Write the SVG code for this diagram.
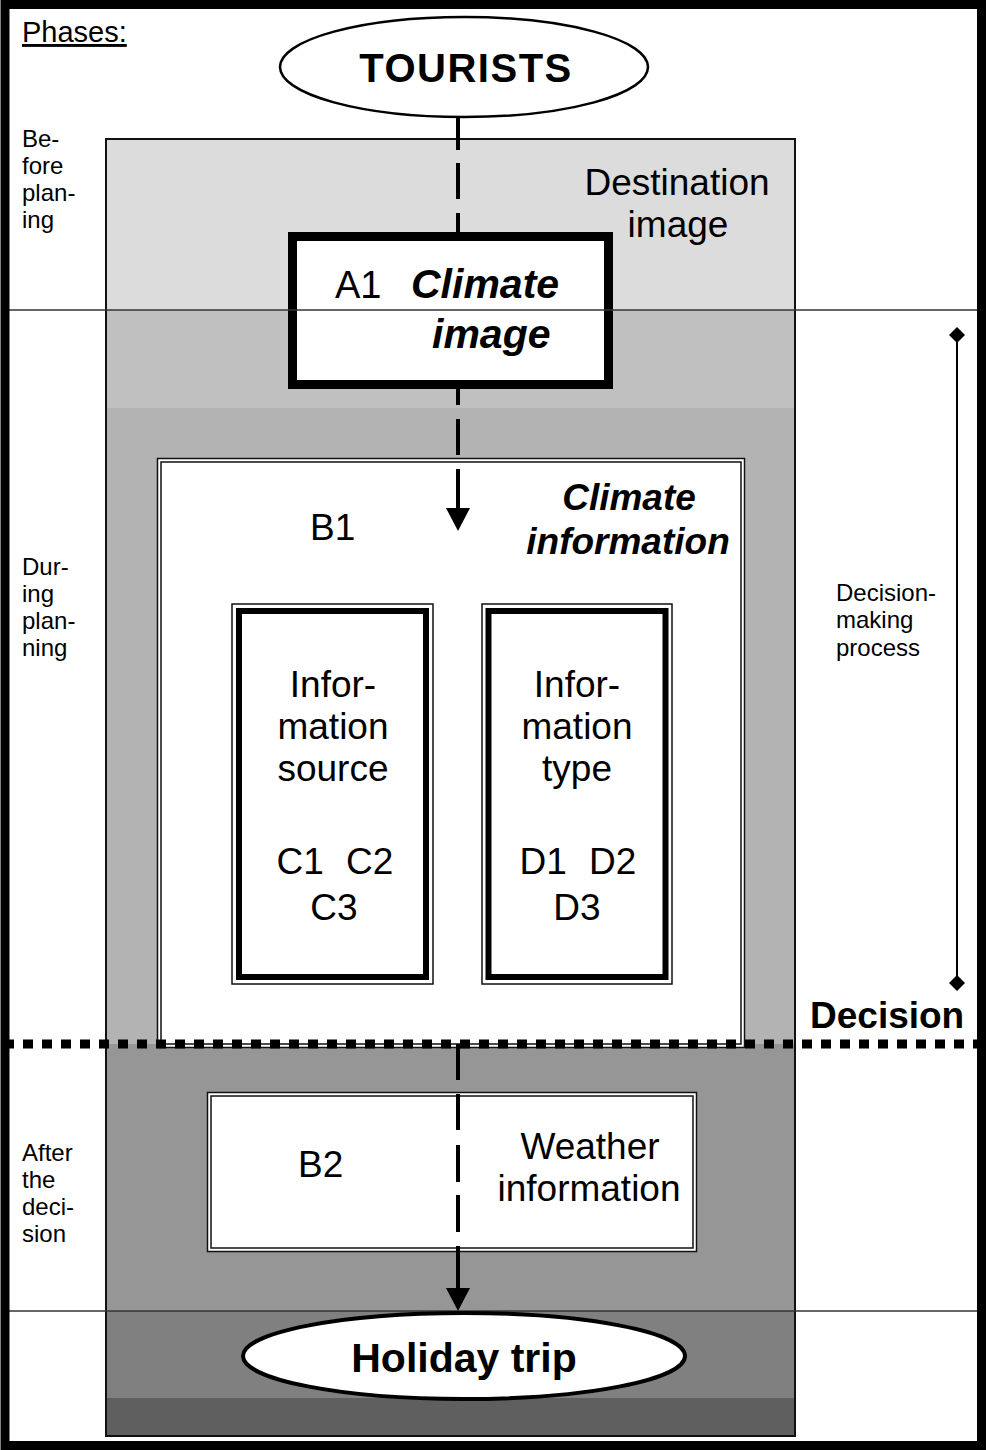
<svg xmlns="http://www.w3.org/2000/svg" width="986" height="1450" viewBox="0 0 986 1450">
  <style>
    text { font-family: "Liberation Sans", Arial, sans-serif; fill: #000; }
    .phase { font-size: 24px; }
    .big { font-size: 37px; }
    .mid { text-anchor: middle; }
    .bi { font-weight: bold; font-style: italic; }
    .b { font-weight: bold; }
    .thin { fill: none; stroke: #111; stroke-width: 1.5; }
    .card { fill: #fff; stroke: #111; stroke-width: 1.5; }
    .sep { stroke: #333; stroke-width: 1.5; }
    .dash { stroke: #000; stroke-width: 4; fill: none; }
  </style>

  <!-- page background -->
  <rect x="0" y="0" width="986" height="1450" fill="#fff"/>

  <!-- shaded process panel, banded by phase -->
  <g id="panel">
    <rect x="106" y="139" width="689" height="171" fill="#dcdcdc"/>
    <rect x="106" y="310" width="689" height="98" fill="#c0c0c0"/>
    <rect x="106" y="408" width="689" height="636" fill="#b3b3b3"/>
    <rect x="106" y="1044" width="689" height="267" fill="#969696"/>
    <rect x="106" y="1311" width="689" height="87" fill="#808080"/>
    <rect x="106" y="1398" width="689" height="38" fill="#5f5f5f"/>
    <rect x="106" y="139" width="689" height="1297" fill="none" stroke="#111" stroke-width="2"/>
    <text class="big mid" x="677" y="195">Destination</text>
    <text class="big mid" x="678" y="237">image</text>
  </g>

  <!-- phase labels -->
  <g id="phases">
    <text x="22" y="42" font-size="29" text-decoration="underline">Phases:</text>
    <text class="phase" x="22" y="147">Be-</text>
    <text class="phase" x="22" y="174">fore</text>
    <text class="phase" x="22" y="201">plan-</text>
    <text class="phase" x="22" y="228">ing</text>
    <text class="phase" x="22" y="575">Dur-</text>
    <text class="phase" x="22" y="602">ing</text>
    <text class="phase" x="22" y="629">plan-</text>
    <text class="phase" x="22" y="656">ning</text>
    <text class="phase" x="22" y="1161">After</text>
    <text class="phase" x="22" y="1188">the</text>
    <text class="phase" x="22" y="1215">deci-</text>
    <text class="phase" x="22" y="1242">sion</text>
  </g>

  <!-- B1: climate information -->
  <g id="b1">
    <rect class="card" x="157.5" y="458.5" width="587" height="589"/>
    <rect class="thin" x="161" y="462" width="580" height="582"/>
    <text class="big" x="310" y="540" font-size="38">B1</text>
    <text class="big mid bi" x="629" y="510">Climate</text>
    <text class="big mid bi" x="628" y="554">information</text>
  </g>

  <!-- C: information source -->
  <g id="c-source">
    <rect class="card" x="232" y="604" width="201" height="380"/>
    <rect x="239" y="611" width="187" height="366" fill="none" stroke="#000" stroke-width="6"/>
    <text class="big mid" x="333" y="697">Infor-</text>
    <text class="big mid" x="333" y="739">mation</text>
    <text class="big mid" x="333" y="781">source</text>
    <text class="big mid" x="335" y="874" word-spacing="12">C1 C2</text>
    <text class="big mid" x="334" y="920">C3</text>
  </g>

  <!-- D: information type -->
  <g id="d-type">
    <rect class="card" x="482" y="604" width="190" height="380"/>
    <rect x="488.5" y="611" width="177" height="366" fill="none" stroke="#000" stroke-width="6"/>
    <text class="big mid" x="577" y="697">Infor-</text>
    <text class="big mid" x="577" y="739">mation</text>
    <text class="big mid" x="577" y="781">type</text>
    <text class="big mid" x="578" y="874" word-spacing="12">D1 D2</text>
    <text class="big mid" x="577" y="920">D3</text>
  </g>

  <!-- B2: weather information -->
  <g id="b2">
    <rect class="card" x="207.5" y="1092.5" width="489" height="159"/>
    <rect class="thin" x="211" y="1096" width="482" height="152"/>
    <text class="big" x="298" y="1177" font-size="38">B2</text>
    <text class="big mid" x="590" y="1159">Weather</text>
    <text class="big mid" x="589" y="1201">information</text>
  </g>

  <!-- A1: climate image -->
  <g id="a1">
    <rect x="292.5" y="236.5" width="316" height="148" fill="#fff" stroke="#000" stroke-width="9"/>
    <text x="335" y="298" font-size="38">A1</text>
    <text class="bi" x="411" y="298" font-size="41">Climate</text>
    <text class="bi" x="432" y="348" font-size="41">image</text>
  </g>

  <!-- phase separators -->
  <g id="separators">
    <line class="sep" x1="9" y1="310" x2="978" y2="310"/>
    <line class="sep" x1="9" y1="1311" x2="978" y2="1311"/>
    <line x1="4" y1="1044" x2="978" y2="1044" stroke="#000" stroke-width="9" stroke-dasharray="10 9"/>
  </g>

  <!-- tourists -->
  <g id="tourists">
    <ellipse cx="464" cy="67" rx="184" ry="50" fill="#fff" stroke="#000" stroke-width="2.5"/>
    <text class="b mid" x="466" y="82" font-size="40" letter-spacing="1.5">TOURISTS</text>
  </g>

  <!-- decision-making span and decision point -->
  <g id="decision">
    <line x1="957" y1="335" x2="957" y2="983" stroke="#000" stroke-width="2"/>
    <path d="M957,327 L965,335 L957,343 L949,335 Z" fill="#000"/>
    <path d="M957,975 L965,983 L957,991 L949,983 Z" fill="#000"/>
    <text class="phase" x="836" y="601">Decision-</text>
    <text class="phase" x="836" y="628">making</text>
    <text class="phase" x="836" y="656">process</text>
    <text class="b" x="810" y="1028" font-size="37">Decision</text>
  </g>

  <!-- dashed flow connectors -->
  <g id="connectors">
    <path class="dash" d="M458,117 V150 M458,163 V199 M458,213 V233"/>
    <path class="dash" d="M458,389 V405 M458,419 V455 M458,469 V508"/>
    <path d="M446,508 L470,508 L458,531 Z" fill="#000"/>
    <path class="dash" d="M458,1044 V1080 M458,1094 V1130 M458,1145 V1182 M458,1195 V1232 M458,1246 V1290"/>
    <path d="M446,1288 L470,1288 L458,1311 Z" fill="#000"/>
  </g>

  <!-- holiday trip -->
  <g id="holiday">
    <ellipse cx="464" cy="1356" rx="221" ry="43" fill="#fff" stroke="#000" stroke-width="4"/>
    <text class="b mid" x="464" y="1372" font-size="41">Holiday trip</text>
  </g>

  <!-- outer frame -->
  <rect x="5" y="4.5" width="976.5" height="1441" fill="none" stroke="#000" stroke-width="9"/>
</svg>
